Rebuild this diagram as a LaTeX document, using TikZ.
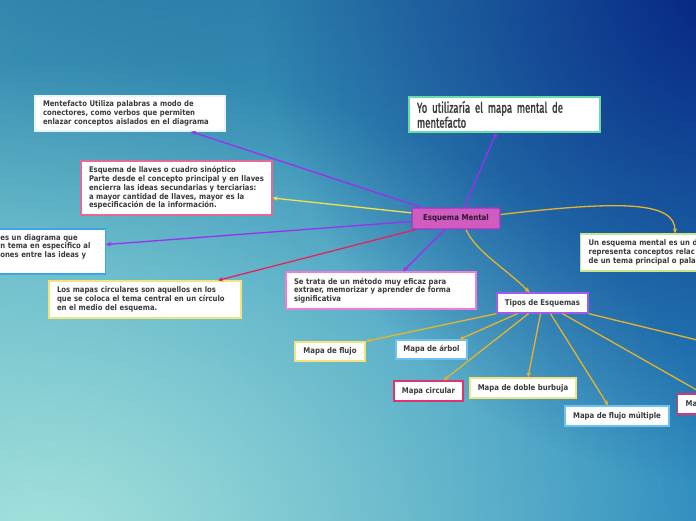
\documentclass[tikz,border=0pt]{standalone}
\usepackage{fontspec}
\usepackage{xcolor}
\usepackage{tikz}
\usetikzlibrary{arrows.meta,fadings}
\newfontfamily\notefont[FakeStretch=0.88]{DejaVu Sans}
\newfontfamily\yofont[FakeStretch=0.66,FakeBold=1.5]{Fira Sans}
\definecolor{txtgray}{HTML}{3A3A3A}
\definecolor{txtcentral}{HTML}{2E1433}
\definecolor{bgleft}{RGB}{72,168,194}
\definecolor{bgright}{RGB}{42,138,190}
\definecolor{bgtop}{RGB}{36,112,160}
\definecolor{bgdark}{RGB}{6,36,130}
\definecolor{bglight}{RGB}{165,226,220}
\definecolor{linkviolet}{HTML}{9B30F0}
\definecolor{linkyellow}{HTML}{F2E14C}
\definecolor{linkred}{HTML}{E8215B}
\definecolor{linkorange}{HTML}{E6B42C}
\definecolor{bdpink}{HTML}{E66A8F}
\definecolor{bdblue}{HTML}{3AA6E6}
\definecolor{bdgreen}{HTML}{6ADBA6}
\definecolor{bdlime}{HTML}{C5E68A}
\definecolor{bdyellow}{HTML}{F3E27E}
\definecolor{bdmagenta}{HTML}{F07BD8}
\definecolor{bdpurple}{HTML}{A15BEA}
\definecolor{bdsky}{HTML}{6CC3F0}
\definecolor{bdred}{HTML}{E0326E}
\definecolor{bdwhite}{HTML}{E6F3F8}
\definecolor{centralfill}{HTML}{D05CC0}
\definecolor{centraldraw}{HTML}{9A3AC8}
\tikzfading[name=suave, inner color=transparent!0, outer color=transparent!100]
\tikzset{
  nota/.style={draw=#1, fill=white, line width=1.3pt, inner xsep=8pt, inner ysep=3pt,
    align=left, text=txtgray, font=\notefont\bfseries\fontsize{7.8}{8.7}\selectfont},
  etiq/.style={draw=#1, fill=white, line width=1.3pt, inner sep=2pt,
    text=txtgray, font=\notefont\bfseries\fontsize{7.9}{8.7}\selectfont},
  enlace/.style={draw=#1, line width=1.3pt, -{Stealth[length=5pt,width=4.5pt]}}
}
\begin{document}
\begin{tikzpicture}[x=1pt,y=-1pt]
  % fondo
  \clip (0,0) rectangle (696,520);
  \shade[left color=bgleft, right color=bgright] (0,0) rectangle (696,520);
  \fill[bgtop, path fading=suave, opacity=0.8] (180,-60) ellipse [x radius=840, y radius=340];
  \fill[bglight, path fading=suave] (40,540) ellipse [x radius=700, y radius=480];
  \fill[bgdark, path fading=suave] (720,-20) ellipse [x radius=460, y radius=500];

  % nodo central y notas
  \node[draw=centraldraw, fill=centralfill, line width=1.3pt, rounded corners=1pt,
    minimum width=88pt, minimum height=21pt, inner sep=1pt,
    font=\notefont\bfseries\fontsize{8}{9}\selectfont, text=txtcentral]
    (central) at (456,218.5) {Esquema Mental};
  \node[nota=bdwhite, text width=174pt, minimum height=35pt] (ment) at (130,113.5)
    {Mentefacto Utiliza palabras a modo de\\conectores, como verbos que permiten\\enlazar conceptos aislados en el diagrama};
  \node[nota=bdpink, text width=175pt, minimum height=54pt] (llaves) at (176.5,188)
    {Esquema de llaves o cuadro sinóptico\\Parte desde el concepto principal y en llaves\\encierra las ideas secundarias y terciarias:\\a mayor cantidad de llaves, mayor es la\\especificación de la información.};
  \node[nota=bdblue, text width=97pt, minimum height=45pt, anchor=east] (concept) at (106,251.5)
    {es un diagrama que\\n tema en especifico al\\ones entre las ideas y\\\strut};
  \node[nota=bdgreen, text width=175pt, minimum height=35pt, text=txtgray,
    font=\yofont\fontsize{14.5}{12}\selectfont] (yo) at (504.5,114.5)
    {Yo utilizaría el mapa mental de\\mentefacto};
  \node[nota=bdlime, text width=190pt, minimum height=37pt, anchor=west] (unesq) at (580,252.5)
    {Un esquema mental es un d\\representa conceptos relac\\de un tema principal o pala};
  \node[nota=bdyellow, text width=176pt, minimum height=37pt] (circ) at (145,299.5)
    {Los mapas circulares son aquellos en los\\que se coloca el tema central en un círculo\\en el medio del esquema.};
  \node[nota=bdmagenta, text width=174pt, minimum height=37pt] (trata) at (381,290.5)
    {Se trata de un método muy eficaz para\\extraer, memorizar y aprender de forma\\significativa};

  % tipos
  \node[etiq=bdpurple, minimum width=91pt, minimum height=20pt] (tipos) at (542.5,303) {Tipos de Esquemas};
  \node[etiq=bdyellow, minimum width=70pt, minimum height=19pt] (flujo) at (330,351.5) {Mapa de flujo};
  \node[etiq=bdsky, minimum width=71pt, minimum height=19pt] (arbol) at (431.5,349.5) {Mapa de árbol};
  \node[etiq=bdred, minimum width=69pt, minimum height=20pt] (circular) at (428.5,391) {Mapa circular};
  \node[etiq=bdyellow, minimum width=106pt, minimum height=20pt] (burbuja) at (523,388) {Mapa de doble burbuja};
  \node[etiq=bdsky, minimum width=104pt, minimum height=20pt] (multiple) at (617,416) {Mapa de flujo múltiple};
  \node[etiq=bdred, text width=64pt, align=left, inner xsep=8pt, minimum height=20pt, anchor=west] (ma) at (677,404) {Ma};
  \coordinate (fuera) at (720,345.5);

  % enlaces desde el centro
  \draw[enlace=linkviolet] ([xshift=10pt]central.north west) -- ([xshift=61pt]ment.south);
  \draw[enlace=linkviolet] ([xshift=8pt]central.north) -- ([xshift=-8pt]yo.south);
  \draw[enlace=linkyellow] ([yshift=-5.5pt]central.north west) -- ([yshift=-10pt]llaves.east);
  \draw[enlace=linkviolet] ([yshift=-3pt]central.west) -- ([yshift=7pt]concept.east);
  \draw[enlace=linkred] ([xshift=4pt]central.south west) -- ([xshift=73pt]circ.north);
  \draw[enlace=linkviolet] ([xshift=-11pt]central.south) -- ([xshift=22pt]trata.north);
  \draw[enlace=linkorange] ([yshift=4pt]central.east) .. controls +(120,-14) and +(0,-32) .. ([xshift=95pt]unesq.north west);
  \draw[enlace=linkorange] ([xshift=10pt]central.south) .. controls +(10,22) and +(-24,-24) .. ([xshift=-13pt]tipos.north);

  % enlaces desde tipos
  \draw[enlace=linkorange] (tipos.south west) -- (flujo.north east);
  \draw[enlace=linkorange] ([xshift=-25pt]tipos.south) -- ([xshift=28pt]arbol.north);
  \draw[enlace=linkorange] ([xshift=-14pt]tipos.south) -- ([xshift=15pt]circular.north);
  \draw[enlace=linkorange] ([xshift=-2pt]tipos.south) -- ([xshift=5pt]burbuja.north);
  \draw[enlace=linkorange] ([xshift=8pt]tipos.south) -- ([xshift=-9pt]multiple.north);
  \draw[enlace=linkorange] ([xshift=20pt]tipos.south) -- ([xshift=-15pt]ma.north);
  \draw[enlace=linkorange] (tipos.south east) -- (fuera);
\end{tikzpicture}
\end{document}
